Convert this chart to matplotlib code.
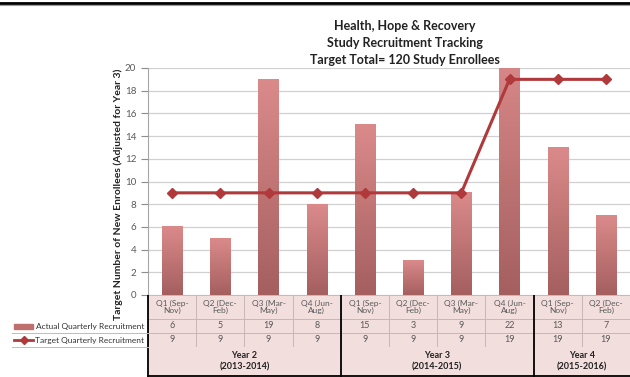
import matplotlib
matplotlib.use("Agg")
import matplotlib.pyplot as plt
import numpy as np
from matplotlib.colors import LinearSegmentedColormap
from matplotlib.patches import Rectangle
from matplotlib.lines import Line2D

quarters = ["Q1 (Sep-\nNov)", "Q2 (Dec-\nFeb)", "Q3 (Mar-\nMay)", "Q4 (Jun-\nAug)",
            "Q1 (Sep-\nNov)", "Q2 (Dec-\nFeb)", "Q3 (Mar-\nMay)", "Q4 (Jun-\nAug)",
            "Q1 (Sep-\nNov)", "Q2 (Dec-\nFeb)"]
actual = [6, 5, 19, 8, 15, 3, 9, 22, 13, 7]
target = [9, 9, 9, 9, 9, 9, 9, 19, 19, 19]
year_names = ["Year 2\n(2013-2014)", "Year 3\n(2014-2015)", "Year 4\n(2015-2016)"]
year_len = [4, 4, 2]

W, H = 630, 377
FONT = ["Lato", "DejaVu Sans"]
plt.rcParams['font.family'] = FONT

bar_cmap = LinearSegmentedColormap.from_list("bar", ["#a55f5f", "#db8a8a"])
line_col = "#b0393b"
cell_fill = "#f2dedd"
cell_edge = "#c9b7b6"
txt_grey = "#595959"

fig = plt.figure(figsize=(W / 100, H / 100), dpi=100)

def fr(x0, y0, x1, y1):
    # pixel box -> figure fraction rect
    return [x0 / W, 1 - y1 / H, (x1 - x0) / W, (y1 - y0) / H]

plot_l, plot_r, plot_t, plot_b = 148, 630, 68, 295
ax = fig.add_axes(fr(plot_l, plot_t, plot_r, plot_b))
n = len(actual)
ax.set_xticks([])
ax.set_yticks(range(0, 21, 2))
ax.tick_params(axis='y', labelsize=7, colors="#8c8c8c", labelcolor=txt_grey, length=5, width=0.8)
ax.grid(axis='y', color="#d0d0d0", lw=0.9)
ax.set_axisbelow(True)
for s in ["top", "right", "bottom"]:
    ax.spines[s].set_visible(False)
ax.spines["left"].set_color("#a6a6a6")
ax.set_ylabel("Target Number of New Enrollees (Adjusted for Year 3)", fontsize=7.5,
              fontweight="bold", color="#222222")
ax.yaxis.set_label_coords(-0.052, 0.445)

# gradient bars
grad = np.linspace(0, 1, 100).reshape(-1, 1)
bw = 0.42
for i, v in enumerate(actual):
    ax.imshow(grad, cmap=bar_cmap, origin="lower", aspect="auto",
              extent=(i + 0.5 - bw / 2, i + 0.5 + bw / 2, 0, v), zorder=2)
ax.set_xlim(0, n)
ax.set_ylim(0, 20)

xs = np.arange(n) + 0.5
ax.plot(xs, target, color=line_col, lw=2.2, marker="D", ms=5.5, zorder=3)

fig.text(405 / W, 1 - 43 / H,
         "Health, Hope & Recovery\nStudy Recruitment Tracking\nTarget Total= 120 Study Enrollees",
         ha="center", va="center", fontsize=9, fontweight="bold", color="#222222", linespacing=1.45)

# data table below the plot, drawn in pixel units
tb = fig.add_axes(fr(0, plot_b, W, H))
tb.set_xlim(0, W)
tb.set_ylim(H - plot_b, 0)
tb.axis("off")
col_w = (plot_r - plot_l) / n
rows = [0, 24, 38, 52, 81]
for i in range(n):
    x0 = plot_l + i * col_w
    for r in range(3):
        tb.add_patch(Rectangle((x0, rows[r]), col_w, rows[r + 1] - rows[r],
                               facecolor=cell_fill, edgecolor=cell_edge, lw=0.7))
    tb.text(x0 + col_w / 2, (rows[0] + rows[1]) / 2, quarters[i], ha="center", va="center",
            fontsize=6, color=txt_grey, linespacing=1.1)
    tb.text(x0 + col_w / 2, (rows[1] + rows[2]) / 2, str(actual[i]), ha="center", va="center",
            fontsize=6.5, color=txt_grey)
    tb.text(x0 + col_w / 2, (rows[2] + rows[3]) / 2, str(target[i]), ha="center", va="center",
            fontsize=6.5, color=txt_grey)

start = 0
for name, k in zip(year_names, year_len):
    x0 = plot_l + start * col_w
    tb.add_patch(Rectangle((x0, rows[3]), k * col_w, rows[4] - rows[3],
                           facecolor=cell_fill, edgecolor="none"))
    tb.text(x0 + k * col_w / 2, (rows[3] + rows[4]) / 2, name, ha="center", va="center",
            fontsize=6.5, fontweight="bold", color="#222222", linespacing=1.3)
    tb.plot([x0, x0], [rows[0], rows[4]], color="black", lw=1.3)
    start += k
tb.plot([plot_l, plot_r], [rows[4] - 0.5, rows[4] - 0.5], color="black", lw=1.3)

# legend keys at the left of the table
for y in (rows[2], rows[3]):
    tb.plot([12, plot_l], [y, y], color=cell_edge, lw=0.7)
y_act = (rows[1] + rows[2]) / 2
y_tgt = (rows[2] + rows[3]) / 2
tb.add_patch(Rectangle((14, y_act - 2.5), 19, 5, color="#c06f6f"))
tb.plot([14, 33], [y_tgt, y_tgt], color=line_col, lw=2)
tb.plot([23.5], [y_tgt], marker="D", ms=4.5, color=line_col)
tb.text(plot_l - 4, y_act, "Actual Quarterly Recruitment", ha="right",
        va="center", fontsize=6, color="#333333")
tb.text(plot_l - 4, y_tgt, "Target Quarterly Recruitment", ha="right",
        va="center", fontsize=6, color="#333333")

# frame line along the top of the image
fig.add_artist(Line2D([0, 1], [1 - 2.5 / H] * 2, color="black", lw=2))
fig.add_artist(Line2D([0, 1], [1 - 4.5 / H] * 2, color="#9a9a9a", lw=0.8))

fig.savefig("out.png", dpi=100)
